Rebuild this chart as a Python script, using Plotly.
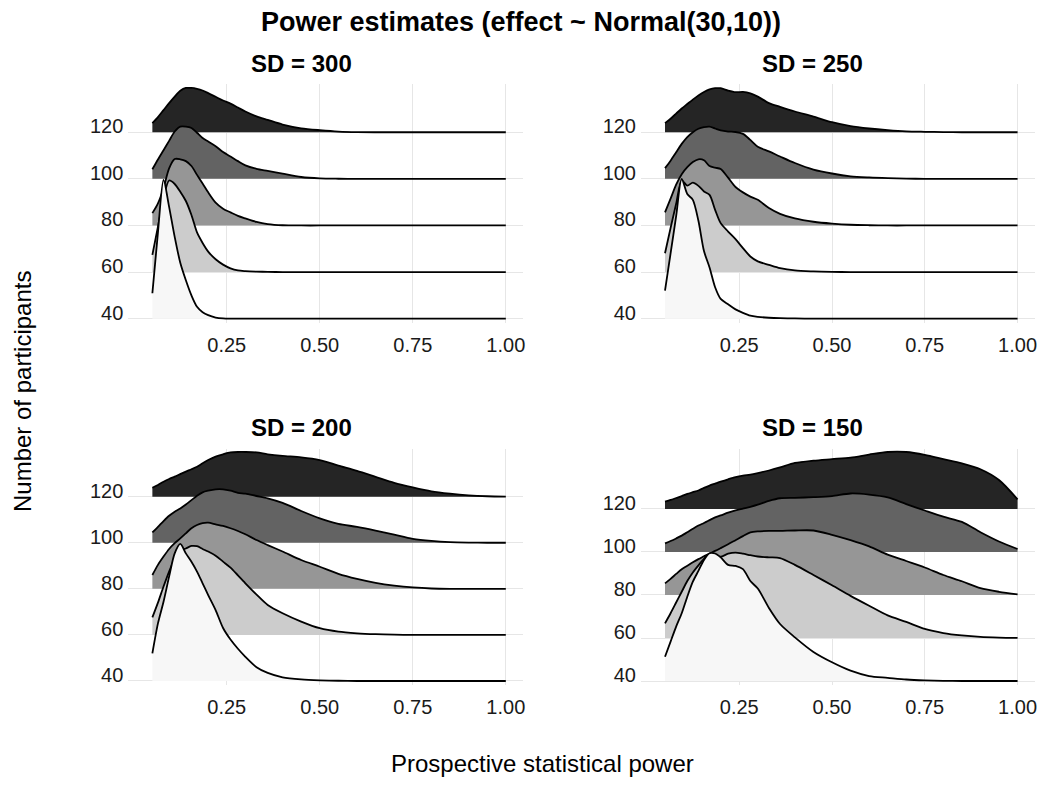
import plotly.graph_objects as go

# ---------------- data ----------------
X = [0.05, 0.065, 0.08, 0.095, 0.11, 0.125, 0.14, 0.155, 0.17, 0.185, 0.20,
     0.22, 0.24, 0.26, 0.28, 0.30, 0.33, 0.36, 0.40, 0.45, 0.50, 0.55, 0.60,
     0.65, 0.70, 0.75, 0.80, 0.85, 0.90, 0.95, 1.00]

levels = [120, 100, 80, 60, 40]
fill_colors = ["#252525", "#636363", "#969696", "#cccccc", "#f7f7f7"]
panel_titles = ["SD = 300", "SD = 250", "SD = 200", "SD = 150"]
y_ticks = [40, 60, 80, 100, 120]
x_ticks = [0.25, 0.50, 0.75, 1.00]
x_ticklabels = ["0.25", "0.50", "0.75", "1.00"]

# ridge heights above baseline (SD = 300)
sd300_n120 = [3.9, 6.5, 9.5, 12.5, 15.3, 17.8, 19.0, 19.0, 18.6, 17.9, 16.8, 15.2, 13.6, 12.3, 10.6, 8.9, 6.8, 5.3, 3.3, 1.7, 0.9, 0.3, 0.05, 0, 0, 0, 0, 0, 0, 0, 0]
sd300_n100 = [4.1, 8.3, 12.3, 16.3, 20.3, 22.4, 22.4, 21.8, 19.8, 17.5, 16.0, 14.0, 11.5, 9.6, 7.6, 5.8, 4.3, 3.4, 2.2, 0.8, 0.2, 0.05, 0, 0, 0, 0, 0, 0, 0, 0, 0]
sd300_n80 = [5.3, 9.5, 16.0, 24.5, 28.5, 28.4, 27.6, 25.5, 21.7, 18.0, 14.2, 9.8, 7.2, 5.6, 4.1, 3.0, 1.5, 0.6, 0.1, 0, 0, 0, 0, 0, 0, 0, 0, 0, 0, 0, 0]
sd300_n60 = [7.4, 19.5, 31.5, 39.3, 37.8, 34.5, 30.5, 24.5, 17.0, 12.5, 8.8, 5.5, 3.2, 1.6, 0.7, 0.4, 0.2, 0.1, 0, 0, 0, 0, 0, 0, 0, 0, 0, 0, 0, 0, 0]
sd300_n40 = [10.9, 37.0, 59.5, 48.0, 35.1, 24.0, 16.5, 10.0, 5.1, 2.8, 1.5, 0.5, 0.1, 0, 0, 0, 0, 0, 0, 0, 0, 0, 0, 0, 0, 0, 0, 0, 0, 0, 0]

# SD = 250
sd250_n120 = [3.9, 5.8, 8.0, 10.2, 12.1, 14.0, 15.8, 17.3, 18.4, 18.9, 18.9, 17.9, 17.2, 17.3, 16.7, 15.3, 12.5, 10.9, 8.9, 6.7, 4.3, 2.6, 1.6, 0.9, 0.4, 0.2, 0.05, 0, 0, 0, 0]
sd250_n100 = [4.6, 7.8, 11.4, 15.0, 17.9, 20.0, 21.5, 22.2, 22.4, 21.6, 20.8, 20.3, 20.1, 19.3, 16.7, 13.8, 11.8, 9.6, 6.8, 4.0, 2.3, 1.1, 0.6, 0.3, 0.1, 0, 0, 0, 0, 0, 0]
sd250_n80 = [5.6, 11.5, 17.5, 22.0, 25.0, 27.2, 28.4, 28.0, 25.5, 24.8, 24.2, 20.5, 16.5, 14.2, 12.4, 11.0, 7.5, 5.0, 3.0, 1.6, 0.8, 0.3, 0.1, 0, 0, 0, 0, 0, 0, 0, 0]
sd250_n60 = [8.1, 18.9, 29.3, 39.3, 37.1, 38.4, 37.0, 34.6, 33.1, 26.7, 21.0, 17.4, 14.1, 10.3, 6.7, 4.6, 3.1, 1.7, 0.7, 0.3, 0.1, 0, 0, 0, 0, 0, 0, 0, 0, 0, 0]
sd250_n40 = [12.0, 28.0, 44.0, 60.0, 53.5, 51.0, 42.0, 29.0, 22.0, 13.5, 8.5, 6.2, 4.0, 2.5, 1.3, 0.8, 0.4, 0.2, 0.1, 0, 0, 0, 0, 0, 0, 0, 0, 0, 0, 0, 0]

# SD = 200
sd200_n120 = [3.9, 5.1, 6.5, 7.7, 8.7, 9.8, 10.9, 11.9, 13.0, 14.5, 15.9, 17.4, 18.4, 19.2, 19.4, 19.4, 19.2, 18.4, 17.7, 17.1, 15.9, 13.5, 11.2, 8.6, 6.0, 4.0, 2.3, 1.3, 0.6, 0.2, 0]
sd200_n100 = [4.5, 6.9, 9.4, 11.7, 13.5, 14.9, 16.6, 18.5, 20.4, 21.9, 22.6, 23.2, 23.2, 22.6, 21.7, 21.3, 20.3, 19.3, 17.3, 13.8, 10.6, 8.2, 6.9, 5.3, 3.5, 1.7, 0.8, 0.3, 0.1, 0, 0]
sd200_n80 = [6.0, 10.4, 14.0, 17.3, 19.8, 21.9, 24.1, 26.3, 27.7, 28.5, 28.7, 28.0, 27.3, 26.3, 25.1, 23.7, 21.2, 19.0, 16.2, 12.5, 9.6, 6.5, 4.3, 2.6, 1.4, 0.6, 0.15, 0, 0, 0, 0]
sd200_n60 = [7.6, 14.0, 21.0, 27.5, 33.0, 36.5, 37.5, 38.6, 38.5, 37.3, 36.2, 34.4, 31.8, 29.2, 25.8, 22.4, 17.5, 13.0, 9.4, 5.8, 2.9, 1.4, 0.7, 0.3, 0.1, 0, 0, 0, 0, 0, 0]
sd200_n40 = [12.0, 25.0, 34.4, 45.3, 55.4, 59.5, 55.4, 51.8, 47.5, 42.4, 37.3, 30.8, 23.0, 18.0, 14.0, 10.5, 6.0, 3.5, 1.6, 0.7, 0.3, 0.1, 0, 0, 0, 0, 0, 0, 0, 0, 0]

# SD = 150
sd150_n120 = [3.4, 4.2, 5.1, 6.0, 7.0, 7.8, 8.6, 9.8, 10.9, 11.8, 12.7, 13.8, 14.8, 15.5, 16.0, 16.7, 17.9, 19.3, 21.4, 22.5, 23.2, 23.9, 25.3, 26.5, 26.5, 25.2, 23.2, 21.2, 18.5, 13.5, 4.5]
sd150_n100 = [4.0, 5.1, 6.3, 7.6, 9.2, 10.8, 12.3, 13.5, 14.8, 16.1, 17.0, 18.3, 19.4, 20.2, 21.0, 22.0, 23.8, 25.0, 25.2, 25.5, 26.0, 27.2, 26.7, 25.4, 22.3, 19.3, 16.4, 14.0, 9.2, 4.9, 1.4]
sd150_n80 = [5.4, 7.5, 9.8, 12.0, 13.6, 15.2, 16.7, 18.0, 19.3, 20.5, 21.8, 23.6, 25.5, 27.4, 29.1, 29.6, 29.8, 29.8, 30.0, 30.0, 28.0, 25.5, 22.6, 18.8, 15.8, 12.8, 9.3, 6.4, 3.2, 1.5, 0.3]
sd150_n60 = [6.8, 11.5, 16.5, 21.5, 26.5, 30.5, 33.8, 36.8, 39.0, 38.5, 37.8, 39.2, 39.7, 39.2, 38.5, 37.9, 37.5, 37.2, 34.0, 29.3, 24.5, 19.6, 15.0, 10.5, 7.5, 4.2, 2.3, 1.2, 0.5, 0.2, 0.05]
sd150_n40 = [11.3, 18.3, 25.3, 31.5, 39.2, 46.2, 51.2, 56.3, 59.4, 59.3, 57.5, 54.0, 53.5, 52.0, 46.5, 43.0, 34.0, 26.5, 20.3, 13.5, 8.7, 4.8, 2.3, 1.5, 0.7, 0.3, 0.1, 0, 0, 0, 0]

panels = [
    [sd300_n120, sd300_n100, sd300_n80, sd300_n60, sd300_n40],
    [sd250_n120, sd250_n100, sd250_n80, sd250_n60, sd250_n40],
    [sd200_n120, sd200_n100, sd200_n80, sd200_n60, sd200_n40],
    [sd150_n120, sd150_n100, sd150_n80, sd150_n60, sd150_n40],
]

# ---------------- layout geometry ----------------
W, H = 1041, 798


def fx(px):
    return px / W


def fy(py):
    return 1 - py / H


x_domains = [[fx(128.3), fx(523.3)], [fx(641), fx(1035)], [fx(128.3), fx(523.3)], [fx(641), fx(1035)]]
y_domains = [[fy(323), fy(84)], [fy(323), fy(84)], [fy(685), fy(449)], [fy(685), fy(449)]]
y_ranges = [[38.15, 140.7], [38.15, 140.7], [38.26, 140.7], [38.14, 147.9]]
x_range = [-0.0147, 1.047]
title_pos = [(fx(301), fy(63)), (fx(812), fy(63)), (fx(301), fy(427)), (fx(812), fy(427))]

FONT = "Liberation Sans, Arial, Helvetica, sans-serif"
GRID = "#e6e6e6"

fig = go.Figure()

for p, ridges in enumerate(panels):
    xa = "x" if p == 0 else f"x{p + 1}"
    ya = "y" if p == 0 else f"y{p + 1}"
    for lvl, heights, col in zip(levels, ridges, fill_colors):
        fig.add_trace(go.Scatter(
            x=X, y=[lvl] * len(X), xaxis=xa, yaxis=ya, mode="lines",
            line=dict(width=0, color="rgba(0,0,0,0)"), hoverinfo="skip", showlegend=False))
        fig.add_trace(go.Scatter(
            x=X, y=[lvl + h for h in heights], xaxis=xa, yaxis=ya, mode="lines",
            fill="tonexty", fillcolor=col,
            line=dict(color="black", width=1.8, shape="spline", smoothing=0.8),
            hoverinfo="skip", showlegend=False))

layout_axes = {}
for p in range(4):
    xk = "xaxis" if p == 0 else f"xaxis{p + 1}"
    yk = "yaxis" if p == 0 else f"yaxis{p + 1}"
    ya = "y" if p == 0 else f"y{p + 1}"
    xa = "x" if p == 0 else f"x{p + 1}"
    layout_axes[xk] = dict(
        domain=x_domains[p], range=x_range, anchor=ya,
        tickvals=x_ticks, ticktext=x_ticklabels,
        showgrid=True, gridcolor=GRID, gridwidth=1.4,
        zeroline=False, showline=False, ticks="",
        ticklabelstandoff=8, automargin=False,
        tickfont=dict(family=FONT, size=20, color="#1a1a1a"))
    layout_axes[yk] = dict(
        domain=y_domains[p], range=y_ranges[p], anchor=xa,
        tickvals=y_ticks, ticktext=[str(t) for t in y_ticks],
        showgrid=True, gridcolor=GRID, gridwidth=1.4,
        zeroline=False, showline=False, ticks="",
        ticklabelshift=-6,
        ticklabelstandoff=4, automargin=False,
        tickfont=dict(family=FONT, size=20, color="#1a1a1a"))

annotations = [
    dict(text="<b>Power estimates (effect ~ Normal(30,10))</b>", x=fx(521), y=fy(22),
         xref="paper", yref="paper", xanchor="center", yanchor="middle", showarrow=False,
         font=dict(family=FONT, size=27, color="black")),
    dict(text="Prospective statistical power", x=fx(542), y=fy(763),
         xref="paper", yref="paper", xanchor="center", yanchor="middle", showarrow=False,
         font=dict(family=FONT, size=24, color="black")),
    dict(text="Number of participants", x=fx(22), y=fy(392), textangle=-90,
         xref="paper", yref="paper", xanchor="center", yanchor="middle", showarrow=False,
         font=dict(family=FONT, size=24, color="black")),
]
for t, (tx, ty) in zip(panel_titles, title_pos):
    annotations.append(dict(text=f"<b>{t}</b>", x=tx, y=ty, xref="paper", yref="paper",
                            xanchor="center", yanchor="middle", showarrow=False,
                            font=dict(family=FONT, size=24, color="black")))

fig.update_layout(
    width=W, height=H, margin=dict(l=0, r=0, t=0, b=0, pad=0),
    paper_bgcolor="white", plot_bgcolor="white",
    showlegend=False, annotations=annotations, **layout_axes)

fig.write_html("out.html")
